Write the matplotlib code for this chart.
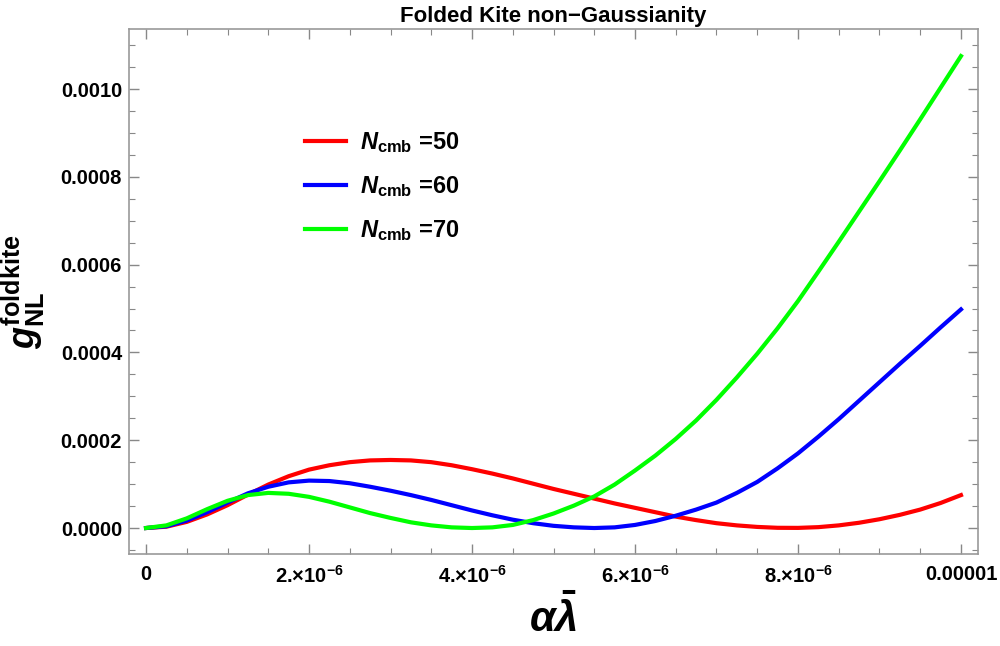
import matplotlib.pyplot as plt

# values (x in units of 1e-6)
x_vals = [0, 0.25, 0.5, 0.75, 1.0, 1.25, 1.5, 1.75, 2.0, 2.25, 2.5, 2.75, 3.0, 3.25, 3.5, 3.75,
          4.0, 4.25, 4.5, 4.75, 5.0, 5.25, 5.5, 5.75, 6.0, 6.25, 6.5, 6.75, 7.0, 7.25, 7.5, 7.75,
          8.0, 8.25, 8.5, 8.75, 9.0, 9.25, 9.5, 9.75, 10.0]
g_n50 = [0, 3e-6, 1.4e-5, 3.1e-5, 5.2e-5, 7.6e-5, 9.9e-5, 1.18e-4, 1.33e-4, 1.43e-4, 1.50e-4,
         1.54e-4, 1.55e-4, 1.54e-4, 1.50e-4, 1.43e-4, 1.34e-4, 1.24e-4, 1.13e-4, 1.01e-4, 8.9e-5,
         7.8e-5, 6.7e-5, 5.6e-5, 4.6e-5, 3.6e-5, 2.6e-5, 1.8e-5, 1.1e-5, 6e-6, 2.5e-6,
         0.5e-6, 0.3e-6, 2e-6, 6e-6, 1.2e-5, 2.0e-5, 3.0e-5, 4.2e-5, 5.7e-5, 7.5e-5]
g_n60 = [0, 4e-6, 1.7e-5, 3.6e-5, 5.8e-5, 7.9e-5, 9.4e-5, 1.04e-4, 1.08e-4, 1.07e-4, 1.02e-4,
         9.4e-5, 8.5e-5, 7.5e-5, 6.4e-5, 5.2e-5, 4.0e-5, 2.9e-5, 1.9e-5, 1.1e-5, 5e-6,
         1.5e-6, 0, 1.5e-6, 7e-6, 1.6e-5, 2.8e-5, 4.2e-5, 5.8e-5, 8.0e-5, 1.05e-4,
         1.36e-4, 1.70e-4, 2.08e-4, 2.48e-4, 2.90e-4, 3.32e-4, 3.74e-4, 4.15e-4, 4.57e-4, 4.98e-4]
g_n70 = [0, 6e-6, 2.2e-5, 4.3e-5, 6.2e-5, 7.5e-5, 8.0e-5, 7.8e-5, 7.1e-5, 6.0e-5, 4.7e-5,
         3.4e-5, 2.3e-5, 1.3e-5, 6e-6, 1.5e-6, 0, 1.5e-6, 7e-6, 1.8e-5, 3.3e-5,
         5.1e-5, 7.2e-5, 9.9e-5, 1.31e-4, 1.65e-4, 2.03e-4, 2.45e-4, 2.92e-4, 3.43e-4, 3.97e-4,
         4.55e-4, 5.17e-4, 5.84e-4, 6.52e-4, 7.21e-4, 7.90e-4, 8.60e-4, 9.31e-4, 1.003e-3, 1.075e-3]

labels = ['50', '60', '70']
colors = ['#ff0000', '#0000ff', '#00ff00']

x_ticks = [0, 2e-6, 4e-6, 6e-6, 8e-6, 1e-5]
x_ticklabels = ['0', r'2.×10$^{\mathbf{-6}}$', r'4.×10$^{\mathbf{-6}}$',
                r'6.×10$^{\mathbf{-6}}$', r'8.×10$^{\mathbf{-6}}$', '0.00001']
y_ticks = [0, 0.0002, 0.0004, 0.0006, 0.0008, 0.0010]
y_ticklabels = ['0.0000', '0.0002', '0.0004', '0.0006', '0.0008', '0.0010']

plt.rcParams['font.family'] = ['Liberation Sans', 'DejaVu Sans']
plt.rcParams['font.weight'] = 'bold'
plt.rcParams['mathtext.fontset'] = 'custom'
plt.rcParams['mathtext.rm'] = 'Liberation Sans:bold'
plt.rcParams['mathtext.bf'] = 'Liberation Sans:bold'
plt.rcParams['mathtext.it'] = 'Liberation Sans:bold:italic'

fig = plt.figure(figsize=(10, 6.46), dpi=100)
ax = fig.add_axes([0.129, 0.1424, 0.849, 0.8127])

xs = [v * 1e-6 for v in x_vals]
for ys, lab, c in zip([g_n50, g_n60, g_n70], labels, colors):
    ax.plot(xs, ys, color=c, lw=3, label=r'$N_{\mathbf{cmb}}$ =' + lab)

ax.set_xlim(-2.09e-7, 1.0209e-5)
ax.set_ylim(-5.92e-5, 0.0011367)

ax.set_xticks(x_ticks)
ax.set_xticklabels(x_ticklabels)
ax.set_xticks([i * 5e-7 for i in range(21)], minor=True)
ax.set_yticks(y_ticks)
ax.set_yticklabels(y_ticklabels)
ax.set_yticks([i * 5e-5 for i in range(-1, 23)], minor=True)

ax.tick_params(which='both', direction='in', top=True, right=True, color='#888888',
               labelsize=14.5)
ax.tick_params(axis='x', pad=8)
ax.tick_params(axis='y', pad=5)
ax.tick_params(which='major', length=7, width=1)
ax.tick_params(which='minor', length=4, width=0.8)
for s in ax.spines.values():
    s.set_color('#999999')
    s.set_linewidth(1.2)

ax.set_title('Folded Kite non\u2212Gaussianity', fontsize=16, fontweight='bold', pad=5)
ax.set_xlabel(r'$\alpha\bar{\lambda}$', fontsize=30, labelpad=6)
ax.set_ylabel(r'$g^{\mathbf{foldkite}}_{\mathbf{NL}}$', fontsize=26, labelpad=10)

ax.legend(loc='upper left', bbox_to_anchor=(0.207, 0.808), frameon=False, fontsize=17,
          handlelength=1.75, handletextpad=0.6, labelspacing=0.82, borderpad=0, borderaxespad=0)

plt.savefig('out.png', dpi=100)
